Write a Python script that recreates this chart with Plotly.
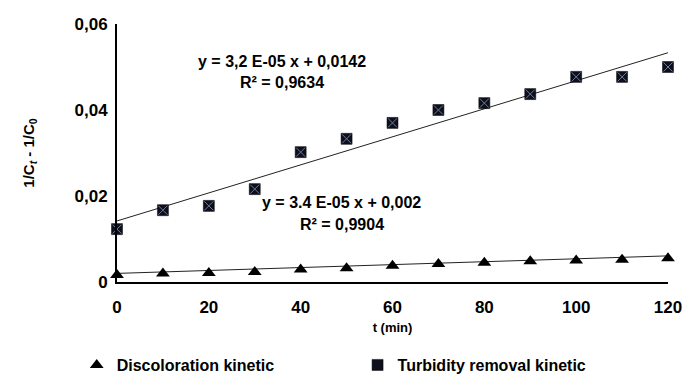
import numpy as np
import plotly.graph_objects as go

# ---- data ----
t_min = [0, 10, 20, 30, 40, 50, 60, 70, 80, 90, 100, 110, 120]
discoloration = [0.0016, 0.0020, 0.0021, 0.0023, 0.0029, 0.0032, 0.0038,
                 0.0042, 0.0045, 0.0048, 0.0050, 0.0052, 0.0055]
turbidity = [0.0123, 0.0167, 0.0177, 0.0216, 0.0302, 0.0333, 0.0370,
             0.0400, 0.0416, 0.0437, 0.0477, 0.0477, 0.0500]
# trendline coefficients (intercept, slope) as drawn
disc_fit = [0.0020, 3.4e-05]
turb_fit = [0.0142, 3.26e-04]
x_ticks = [0, 20, 40, 60, 80, 100, 120]
y_ticks = [0, 0.02, 0.04, 0.06]
y_tick_text = ["0", "0,02", "0,04", "0,06"]
eq_turb = ["y = 3,2 E-05 x + 0,0142", "R² = 0,9634"]
eq_disc = ["y = 3.4 E-05 x + 0,002", "R² = 0,9904"]

FONT = "Liberation Sans, Arial, sans-serif"
t_arr = np.array(t_min, dtype=float)
x_line = np.array([t_arr.min(), t_arr.max()])

fig = go.Figure()

# trendlines
fig.add_trace(go.Scatter(x=x_line, y=turb_fit[0] + turb_fit[1] * x_line,
                         mode="lines", line=dict(color="#222222", width=1),
                         showlegend=False, hoverinfo="skip", cliponaxis=False))
fig.add_trace(go.Scatter(x=x_line, y=disc_fit[0] + disc_fit[1] * x_line,
                         mode="lines", line=dict(color="#222222", width=1),
                         showlegend=False, hoverinfo="skip", cliponaxis=False))

# markers
fig.add_trace(go.Scatter(x=t_min, y=discoloration, mode="markers",
                         name="Discoloration kinetic", legend="legend",
                         marker=dict(symbol="triangle-up", size=12, color="black",
                                     line=dict(width=0)),
                         cliponaxis=False))
fig.add_trace(go.Scatter(x=t_min, y=turbidity, mode="markers",
                         name="Turbidity removal kinetic", legend="legend2",
                         marker=dict(symbol="square", size=11, color="#0d0f1c",
                                     line=dict(width=0.5, color="black")),
                         cliponaxis=False))
fig.add_trace(go.Scatter(x=t_min, y=turbidity, mode="markers",
                         marker=dict(symbol="x-thin-open", size=9, color="#6f7c99",
                                     line=dict(width=1, color="#6f7c99")),
                         showlegend=False, hoverinfo="skip", cliponaxis=False))

ann_font = dict(family=FONT, size=16, color="black")
for txt, xx, yy in [(eq_turb[0], 36, 0.0512), (eq_turb[1], 36, 0.0463),
                    (eq_disc[0], 49, 0.0184), (eq_disc[1], 49, 0.0133)]:
    fig.add_annotation(x=xx, y=yy, text="<b>" + txt + "</b>", showarrow=False,
                       font=ann_font, xanchor="center", yanchor="middle")

legend_common = dict(orientation="h", xref="container", yref="container",
                     xanchor="left", y=0.042, yanchor="middle",
                     font=dict(family=FONT, size=16, weight="bold"),
                     bgcolor="rgba(0,0,0,0)")

fig.update_layout(
    width=685, height=381,
    margin=dict(l=117, r=17, t=24, b=99),
    paper_bgcolor="white", plot_bgcolor="white",
    font=dict(family=FONT, color="black"),
    xaxis=dict(range=[0, 120], tickvals=x_ticks, showgrid=False, zeroline=False,
               showline=True, linecolor="black", linewidth=2, ticks="",
               automargin=False,
               tickfont=dict(family=FONT, size=17, color="black", weight="bold"),
               ticklabelstandoff=9,
               title=dict(text="<b>t (min)</b>", font=dict(family=FONT, size=13),
                          standoff=6)),
    yaxis=dict(range=[0, 0.06], tickvals=y_ticks, ticktext=y_tick_text,
               showgrid=False, zeroline=False, automargin=False,
               showline=True, linecolor="black", linewidth=2, ticks="",
               tickfont=dict(family=FONT, size=17, color="black", weight="bold"),
               ticklabelstandoff=4,
               title=dict(text="<b>1/C<sub><i>t</i></sub> - 1/C<sub>0</sub></b>",
                          font=dict(family=FONT, size=15), standoff=36)),
    legend=dict(x=0.112, **legend_common),
    legend2=dict(x=0.522, **legend_common),
)

fig.write_html("out.html")
